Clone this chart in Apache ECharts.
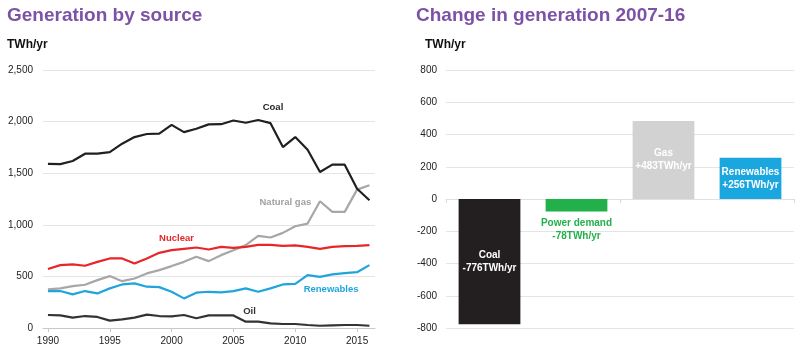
<!DOCTYPE html>
<html><head><meta charset="utf-8">
<script src="https://cdn.jsdelivr.net/npm/echarts@6/dist/echarts.min.js"></script>
<style>html,body{margin:0;padding:0;background:#fff}#c{width:800px;height:362px}</style>
</head><body><div id="c"></div>
<script>
const years = [1990,1991,1992,1993,1994,1995,1996,1997,1998,1999,2000,2001,2002,2003,2004,2005,2006,2007,2008,2009,2010,2011,2012,2013,2014,2015,2016];
const coal = [1590,1588,1618,1689,1690,1705,1786,1850,1880,1883,1968,1898,1931,1973,1975,2011,1989,2016,1985,1753,1850,1728,1512,1583,1583,1350,1238];
const gas = [374,384,406,419,464,503,454,480,529,561,600,641,690,648,706,754,803,893,877,922,986,1012,1228,1125,1125,1341,1383];
const nuclear = [571,609,616,603,641,674,674,625,674,728,754,767,780,761,786,777,786,806,806,796,800,786,767,786,793,796,803];
const renewables = [358,358,326,358,335,384,422,432,400,396,351,287,342,351,345,358,384,351,384,422,428,512,496,519,532,541,609];
const oil = [126,122,100,116,107,71,84,100,129,116,113,126,94,122,122,122,61,61,45,39,39,29,22,26,29,29,22];
const yearTicks = [1990,1995,2000,2005,2010,2015];
const seriesNames = ['Coal','Natural gas','Nuclear','Renewables','Oil'];
const seriesColors = ['#231f20','#a7a7a7','#e8262a','#1fa5dc','#333333'];
const labelPos = [[2008.2,2137],[2009.2,1218],[2000.4,870],[2012.9,377],[2006.3,164]];
const changeCats = ['Coal','Power demand','Gas','Renewables'];
const changeVals = [-776,-78,483,256];
const changeLabels = ['Coal\n-776TWh/yr','Power demand\n-78TWh/yr','Gas\n+483TWh/yr','Renewables\n+256TWh/yr'];
const changeColors = ['#231f20','#22b04b','#d2d2d2','#1aa7e0'];

const chart = echarts.init(document.getElementById('c'));
const FONT = '"Liberation Sans", Arial, Helvetica, sans-serif';
const gridLine = {show:true, lineStyle:{color:'#e4e4e4', width:1}};
const dataSets = [coal, gas, nuclear, renewables, oil];
const lineSeries = dataSets.map((d,i)=>({
  type:'line', xAxisIndex:0, yAxisIndex:0, name:seriesNames[i],
  data: years.map((y,k)=>[y,d[k]]),
  showSymbol:false, symbol:'none',
  lineStyle:{color:seriesColors[i], width:2.2},
  itemStyle:{color:seriesColors[i]},
  z: i===0?5:3,
  markPoint:{
    symbol:'circle', symbolSize:0, silent:true,
    data:[{coord:labelPos[i], value:seriesNames[i]}],
    label:{show:true, position:'inside', formatter:seriesNames[i], color:seriesColors[i]==='#a7a7a7'?'#a0a0a0':seriesColors[i], fontFamily:FONT, fontWeight:'bold', fontSize:9.5}
  }
}));

chart.setOption({
  animation:false,
  textStyle:{fontFamily:FONT},
  title:[
    {text:'Generation by source', left:7, top:6, padding:0, textStyle:{color:'#7b52a6', fontSize:19, fontWeight:'bold', fontFamily:FONT}},
    {text:'TWh/yr', left:7, top:39, padding:0, textStyle:{color:'#111', fontSize:12, fontWeight:'bold', fontFamily:FONT}},
    {text:'Change in generation 2007-16', left:416, top:6, padding:0, textStyle:{color:'#7b52a6', fontSize:19, fontWeight:'bold', fontFamily:FONT}},
    {text:'TWh/yr', left:425, top:39, padding:0, textStyle:{color:'#111', fontSize:12, fontWeight:'bold', fontFamily:FONT}}
  ],
  grid:[
    {left:43, right:425, top:70, bottom:34},
    {left:446, right:6, top:70, bottom:34}
  ],
  xAxis:[
    {type:'value', gridIndex:0, min:1989.6, max:2016.45,
     axisLine:{show:true, lineStyle:{color:'#c8c8c8'}},
     axisTick:{show:true, length:4, customValues:yearTicks, lineStyle:{color:'#c8c8c8'}},
     axisLabel:{customValues:yearTicks, color:'#222', fontSize:10, margin:8, formatter:v=>String(v)},
     splitLine:{show:false}},
    {type:'category', gridIndex:1, data:changeCats,
     axisLine:{show:true, onZero:true, lineStyle:{color:'#e0e0e0'}},
     axisTick:{show:true, length:4, lineStyle:{color:'#d8d8d8'}},
     axisLabel:{show:false}, splitLine:{show:false}}
  ],
  yAxis:[
    {type:'value', gridIndex:0, min:0, max:2500, interval:500,
     axisLine:{show:false}, axisTick:{show:false},
     axisLabel:{color:'#222', fontSize:10, margin:10, formatter:v=>v.toLocaleString('en-US')},
     splitLine:gridLine},
    {type:'value', gridIndex:1, min:-800, max:800, interval:200,
     axisLine:{show:false}, axisTick:{show:false},
     axisLabel:{color:'#222', fontSize:10, margin:9},
     splitLine:gridLine}
  ],
  series:[
    ...lineSeries,
    {type:'bar', xAxisIndex:1, yAxisIndex:1, barWidth:'71%',
     data: changeVals.map((v,i)=>({
       value:v,
       itemStyle:{color:changeColors[i]},
       label:{show:true, formatter:changeLabels[i], position: i===1?'bottom':'inside',
              distance:5, color: i===1?changeColors[1]:'#fff',
              fontFamily:FONT, fontWeight:'bold', fontSize:10, lineHeight:13, align:'center'}
     }))
    }
  ]
});
</script></body></html>
